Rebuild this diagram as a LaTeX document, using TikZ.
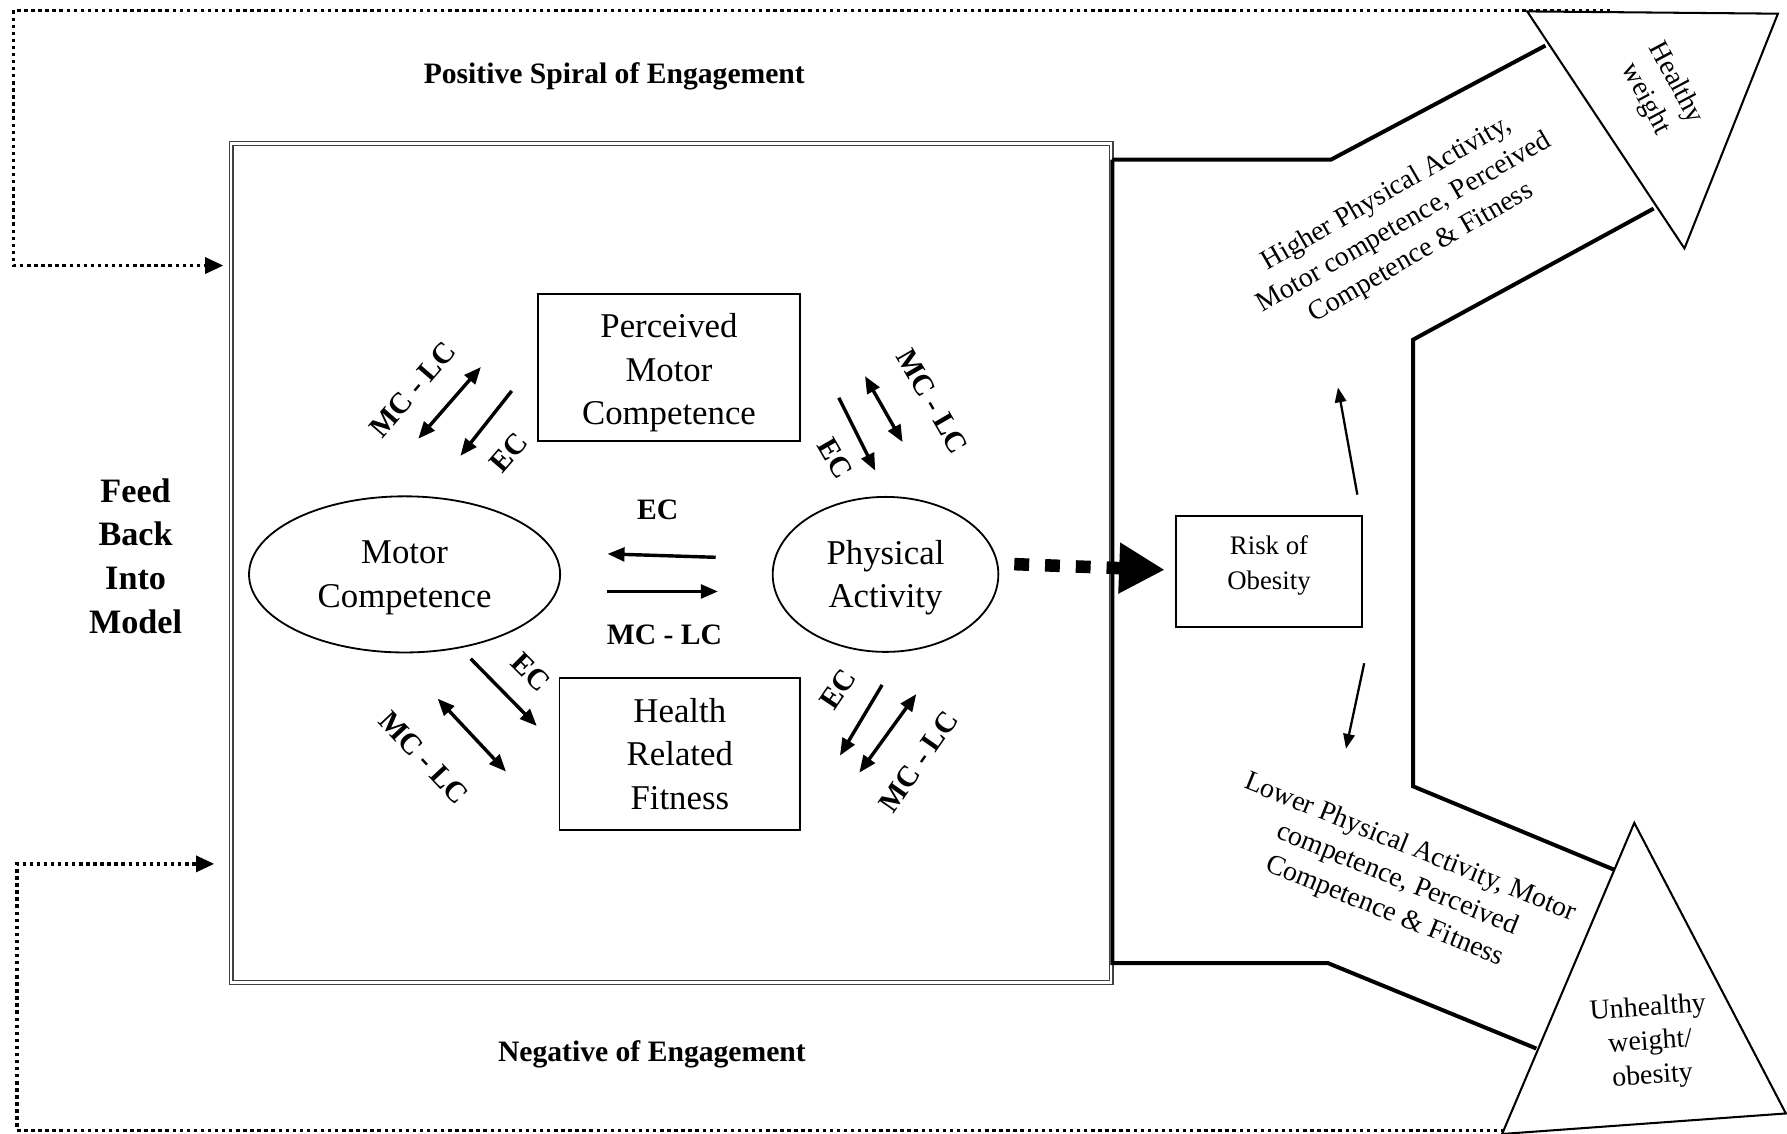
\documentclass[tikz,border=0pt]{standalone}
\usepackage{fontspec}
\setmainfont{Liberation Serif}
\usetikzlibrary{arrows.meta,shapes.geometric}
\begin{document}
\begin{tikzpicture}[x=1pt,y=-1pt,
  nodetext/.style={font=\fontsize{30.5}{38}\selectfont, align=center},
  boxnode/.style={draw, line width=1.6pt, inner sep=0pt},
  ovalnode/.style={ellipse, draw, line width=1.6pt, inner sep=0pt},
  lbl/.style={font=\bfseries\fontsize{26}{30}\selectfont, inner sep=0pt},
  heading/.style={font=\bfseries\fontsize{26}{30}\selectfont},
  sidetext/.style={font=\fontsize{24.5}{30}\selectfont, align=center, inner sep=0pt},
  onearrow/.style={line width=3pt, -{Triangle[length=15pt,width=12pt]}},
  twoarrow/.style={line width=3pt, {Triangle[length=15pt,width=12pt]}-{Triangle[length=15pt,width=12pt]}},
  riskarrow/.style={line width=2pt, -{Triangle[length=13pt,width=10pt]}},
  feedback/.style={line width=3pt, dash pattern=on 3pt off 3.2pt, -{Triangle[length=16pt,width=14pt]}},
  chevron/.style={line width=3.5pt, line join=miter},
  tri/.style={line width=1.8pt, line join=miter},
]
\useasboundingbox (0,0) rectangle (1568,995);

% outer frame of the engagement model
\node[draw=black!75, double=white, double distance=2pt, line width=1.1pt,
      minimum width=772pt, minimum height=736pt, inner sep=0pt] (frame) at (589,494) {};

% headings
\node[heading] (pos) at (539,67) {Positive Spiral of Engagement};
\node[heading] (neg) at (572,925) {Negative of Engagement};
\node[font=\bfseries\fontsize{30}{38.5}\selectfont, align=center] (fb) at (119,488) {Feed\\Back\\Into\\Model};

% core constructs (shapes, then their texts)
\node[boxnode, minimum width=230pt, minimum height=129pt] (pmc) at (587,322.5) {};
\node[nodetext] (pmctext) at (587,327) {Perceived\\Motor\\Competence};
\node[ovalnode, minimum width=273pt, minimum height=137pt] (mc) at (355,504) {};
\node[nodetext] (mctext) at (355,507) {Motor\\Competence};
\node[ovalnode, minimum width=198pt, minimum height=136pt] (pa) at (777,504) {};
\node[nodetext] (patext) at (777,507) {Physical\\Activity};
\node[boxnode, minimum width=211pt, minimum height=133pt] (hrf) at (596.5,661.5) {};
\node[nodetext] (hrftext) at (596.5,661.5) {Health\\Related\\Fitness};
\node[boxnode, minimum width=163pt, minimum height=97pt] (risk) at (1113.5,501.5) {};
\node[font=\fontsize{23.5}{31}\selectfont, align=center] (risktext) at (1113.5,496) {Risk of\\Obesity};

% arrows between motor competence and physical activity
\coordinate (h1a) at (628,489); \coordinate (h1b) at (533,486);
\coordinate (h2a) at (533,519); \coordinate (h2b) at (630,519);
\draw[onearrow] (h1a) -- (h1b);
\draw[onearrow] (h2a) -- (h2b);
\node[lbl] (lh1) at (577,447) {EC};
\node[lbl] (lh2) at (583,557) {MC - LC};

% motor competence <-> perceived motor competence
\coordinate (tl1a) at (367,385); \coordinate (tl1b) at (422,322);
\coordinate (tl2a) at (449,343); \coordinate (tl2b) at (404,400);
\draw[twoarrow] (tl1a) -- (tl1b);
\draw[onearrow] (tl2a) -- (tl2b);
\node[lbl, rotate=49] (ltl1) at (362,342) {MC - LC};
\node[lbl, rotate=49] (ltl2) at (446,397) {EC};

% perceived motor competence <-> physical activity
\coordinate (tr1a) at (736,349); \coordinate (tr1b) at (768,413);
\coordinate (tr2a) at (759,330); \coordinate (tr2b) at (792,388);
\draw[onearrow] (tr1a) -- (tr1b);
\draw[twoarrow] (tr2a) -- (tr2b);
\node[lbl, rotate=-60] (ltr1) at (733,402) {EC};
\node[lbl, rotate=-60] (ltr2) at (818,352) {MC - LC};

% motor competence <-> health related fitness
\coordinate (bl1a) at (413,578); \coordinate (bl1b) at (471,637);
\coordinate (bl2a) at (384,613); \coordinate (bl2b) at (444,677);
\draw[onearrow] (bl1a) -- (bl1b);
\draw[twoarrow] (bl2a) -- (bl2b);
\node[lbl, rotate=-45] (lbl1) at (466,590) {EC};
\node[lbl, rotate=-47] (lbl2) at (372,665) {MC - LC};

% physical activity <-> health related fitness
\coordinate (br1a) at (774,601); \coordinate (br1b) at (737,663);
\coordinate (br2a) at (804,609); \coordinate (br2b) at (754,678);
\draw[onearrow] (br1a) -- (br1b);
\draw[twoarrow] (br2a) -- (br2b);
\node[lbl, rotate=56] (lbr1) at (735,605) {EC};
\node[lbl, rotate=55] (lbr2) at (806,668) {MC - LC};

% physical activity leads to risk of obesity
\coordinate (paout) at (890,495); \coordinate (riskin) at (1022,500);
\draw[line width=11pt, dash pattern=on 13pt off 14pt, -{Triangle[length=40pt,width=42pt]}] (paout) -- (riskin);

% branching outcome arrows
\draw[chevron] (976,140) -- (1168,140) -- (1356,40);
\draw[chevron] (1451,183) -- (1240,298) -- (1240,690) -- (1416,763);
\draw[chevron] (1348,920) -- (1165,845) -- (976,845) -- (976,140);

\coordinate (up1) at (1191,434); \coordinate (up2) at (1174,340);
\coordinate (dn1) at (1197,582); \coordinate (dn2) at (1181,657);
\draw[riskarrow] (up1) -- (up2);
\draw[riskarrow] (dn1) -- (dn2);

% outcome heads
\draw[tri] (1340,10) -- (1560,12) -- (1478,218) -- cycle;
\draw[tri] (1434,722) -- (1567,977) -- (1318,995) -- cycle;

\node[sidetext, rotate=30] (hi) at (1232,196) {Higher Physical Activity,\\Motor competence, Perceived\\Competence \& Fitness};
\node[sidetext, rotate=-62] (hw) at (1457,80) {Healthy\\weight};
\node[sidetext, rotate=-22] (lo) at (1226,772) {Lower Physical Activity, Motor\\competence, Perceived\\Competence \& Fitness};
\node[sidetext, rotate=4] (uw) at (1448,915) {Unhealthy\\weight/\\obesity};

% feedback loops into the model
\coordinate (fbin1) at (196,233); \coordinate (fbin2) at (188,758);
\draw[feedback] (1413,9) -- (12,9) -- (12,233) -- (fbin1);
\draw[feedback] (1320,992) -- (15,992) -- (15,758) -- (fbin2);
\end{tikzpicture}
\end{document}
